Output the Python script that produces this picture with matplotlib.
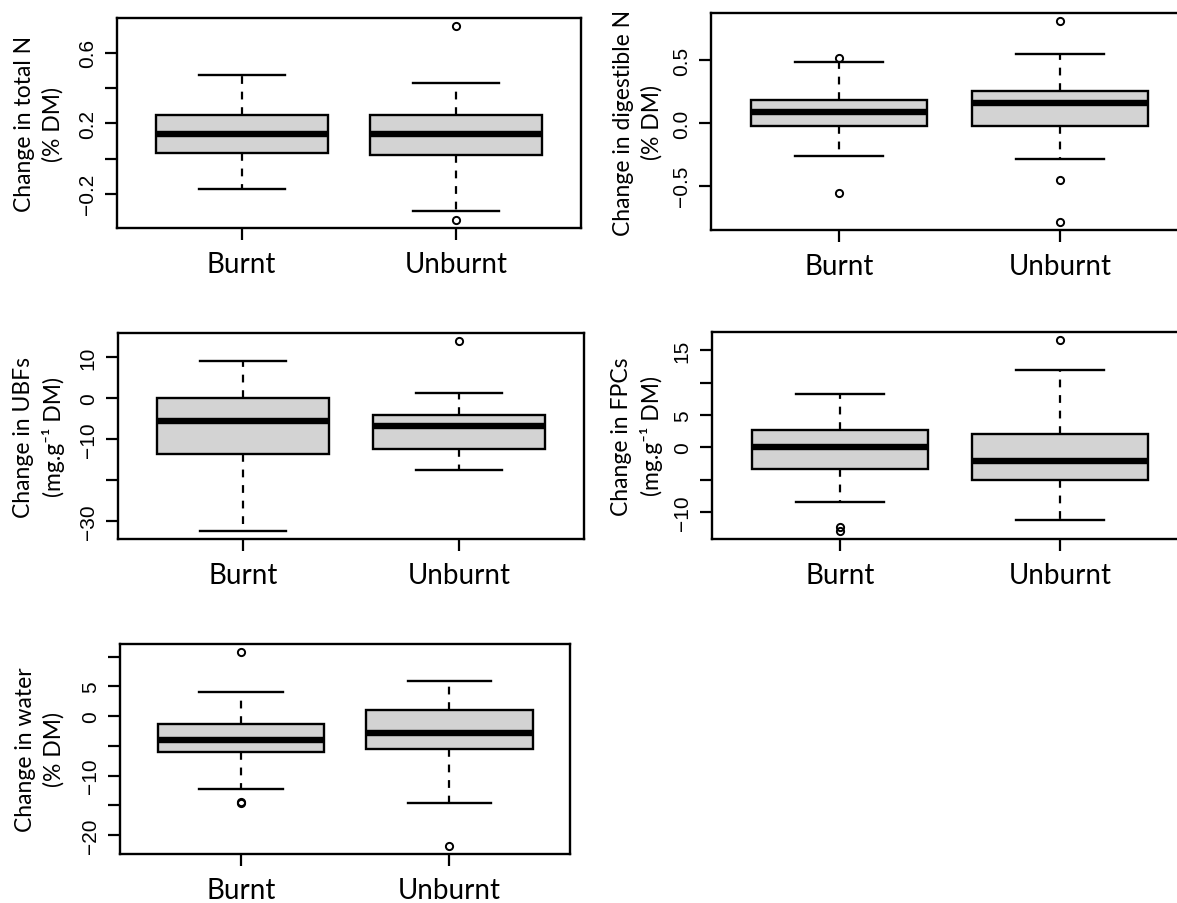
import matplotlib
matplotlib.use("Agg")
import matplotlib.pyplot as plt

W, H = 1177, 904

groups = ["Burnt", "Unburnt"]

# total N (% DM)
totn_q1 = [0.032, 0.021]
totn_med = [0.138, 0.138]
totn_q3 = [0.246, 0.246]
totn_lo = [-0.174, -0.295]
totn_hi = [0.475, 0.427]
totn_out = [[], [0.753, -0.35]]

# digestible N (% DM)
dign_q1 = [-0.024, -0.021]
dign_med = [0.088, 0.162]
dign_q3 = [0.186, 0.255]
dign_lo = [-0.265, -0.289]
dign_hi = [0.488, 0.546]
dign_out = [[0.517, -0.56], [0.812, -0.451, -0.788]]

# UBFs (mg/g DM)
ubf_q1 = [-13.6, -12.4]
ubf_med = [-5.6, -6.8]
ubf_q3 = [0.16, -4.0]
ubf_lo = [-32.5, -17.4]
ubf_hi = [9.2, 1.3]
ubf_out = [[], [14.1]]

# FPCs (mg/g DM)
fpc_q1 = [-3.4, -5.1]
fpc_med = [0.1, -2.06]
fpc_q3 = [2.63, 2.0]
fpc_lo = [-8.45, -11.2]
fpc_hi = [8.2, 11.96]
fpc_out = [[-12.4, -13.0], [16.65]]

# water (% DM)
wat_q1 = [-5.96, -5.45]
wat_med = [-4.05, -2.87]
wat_q3 = [-1.35, 1.07]
wat_lo = [-12.25, -14.6]
wat_hi = [4.0, 5.84]
wat_out = [[10.8, -14.4, -14.66], [-21.85]]

M = "\u2212"
LABEL_FONT = ["Lato", "DejaVu Sans"]
TICK_FONT = ["Liberation Sans", "DejaVu Sans"]


def make_stats(q1, med, q3, lo, hi, out):
    return [dict(label=g, q1=q1[i], med=med[i], q3=q3[i],
                 whislo=lo[i], whishi=hi[i], fliers=out[i])
            for i, g in enumerate(groups)]


def px_axes(fig, left, top, right, bottom):
    return fig.add_axes([left / W, 1 - bottom / H, (right - left) / W, (bottom - top) / H])


def draw_panel(fig, box, stats, ticks, ticklabels, ylabel, label_x):
    ax = px_axes(fig, *box)
    ax.bxp(stats, positions=[1, 2], widths=0.8, capwidths=0.4, patch_artist=True,
           boxprops=dict(facecolor="#d3d3d3", edgecolor="black", linewidth=1.7),
           medianprops=dict(color="black", linewidth=4.6, solid_capstyle="butt"),
           whiskerprops=dict(color="black", linewidth=1.6, linestyle=(0, (3.5, 3.5))),
           capprops=dict(color="black", linewidth=1.7),
           flierprops=dict(marker="o", markerfacecolor="none", markeredgecolor="black",
                           markersize=5.2, markeredgewidth=1.4))

    vals = []
    for s in stats:
        vals += [s["whislo"], s["whishi"]] + list(s["fliers"])
    lo, hi = min(vals), max(vals)
    pad = 0.04 * (hi - lo)
    ax.set_ylim(lo - pad, hi + pad)
    ax.set_xlim(0.42, 2.58)

    ax.set_yticks(ticks)
    ax.set_yticklabels(ticklabels, rotation=90, va="center", family=TICK_FONT, fontsize=15)
    ax.set_xticks([1, 2])
    ax.set_xticklabels(groups, family=LABEL_FONT, fontsize=20)
    ax.tick_params(axis="y", length=8.6, width=1.6, pad=6)
    ax.tick_params(axis="x", length=8.6, width=1.6, pad=8)
    for sp in ax.spines.values():
        sp.set_linewidth(1.7)

    yc = 1 - (box[1] + box[3]) / 2 / H
    fig.text(label_x / W, yc, ylabel, rotation=90, ha="center", va="center",
             multialignment="center", family=LABEL_FONT, fontsize=16.5, linespacing=1.4)
    return ax


fig = plt.figure(figsize=(W / 100, H / 100), dpi=100)

draw_panel(fig, (117, 19, 581, 229),
           make_stats(totn_q1, totn_med, totn_q3, totn_lo, totn_hi, totn_out),
           [-0.2, 0.0, 0.2, 0.4, 0.6], [M + "0.2", "", "0.2", "", "0.6"],
           "Change in total N\n(% DM)", 39)

draw_panel(fig, (711, 14, 1188, 231),
           make_stats(dign_q1, dign_med, dign_q3, dign_lo, dign_hi, dign_out),
           [-0.5, 0.0, 0.5], [M + "0.5", "0.0", "0.5"],
           "Change in digestible N\n(% DM)", 638)

draw_panel(fig, (118, 334, 584, 540),
           make_stats(ubf_q1, ubf_med, ubf_q3, ubf_lo, ubf_hi, ubf_out),
           [-30, -20, -10, 0, 10], [M + "30", "", M + "10", "0", "10"],
           "Change in UBFs\n(mg.g\u207b\u00b9 DM)", 39)

draw_panel(fig, (712, 333, 1188, 540),
           make_stats(fpc_q1, fpc_med, fpc_q3, fpc_lo, fpc_hi, fpc_out),
           [-10, -5, 0, 5, 10, 15], [M + "10", "", "0", "5", "", "15"],
           "Change in FPCs\n(mg.g\u207b\u00b9 DM)", 637)

draw_panel(fig, (120, 645, 570, 855),
           make_stats(wat_q1, wat_med, wat_q3, wat_lo, wat_hi, wat_out),
           [-20, -15, -10, -5, 0, 5, 10], [M + "20", "", M + "10", "", "0", "5", ""],
           "Change in water\n(% DM)", 40)

fig.savefig("out.png", dpi=100)
